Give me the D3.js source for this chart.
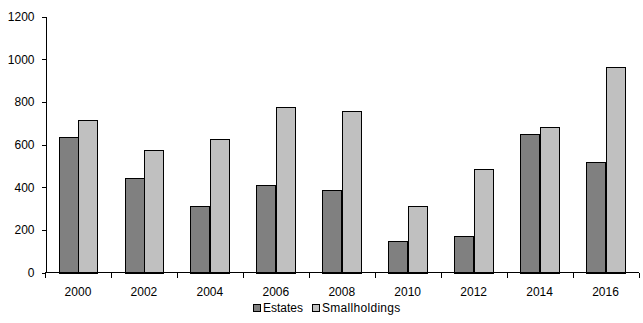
<!DOCTYPE html>
<html><head><meta charset="utf-8">
<script src="https://cdn.jsdelivr.net/npm/d3@7"></script>
<style>
html,body{margin:0;padding:0;background:#fff;}
svg{display:block;font-family:"Liberation Sans",Arial,sans-serif;}
</style></head>
<body>
<svg id="chart" width="643" height="323"></svg>
<script>
const years = ["2000","2002","2004","2006","2008","2010","2012","2014","2016"];
const seriesNames = ["Estates","Smallholdings"];
const estates = [637, 441, 314, 412, 389, 150, 173, 647, 520];
const smallholdings = [717, 575, 628, 778, 755, 314, 483, 680, 961];
const yTicks = [0, 200, 400, 600, 800, 1000, 1200];
const colors = ["#808080", "#C0C0C0"];

const svg = d3.select("#chart");
const x = d3.scaleBand().domain(years).range([45, 638.5]).padding(0);
const xs = d3.scaleBand().domain(seriesNames).range([0, x.bandwidth()]).paddingInner(0).paddingOuter(0.7);
const y = d3.scaleLinear().domain([0, 1200]).range([272.5, 16.5]);

const seriesVals = [estates, smallholdings];
const data = [];
years.forEach((yr, i) => seriesNames.forEach((s, j) => data.push({yr, s, v: seriesVals[j][i], c: colors[j]})));

svg.append("g").selectAll("rect").data(data).join("rect")
  .attr("x", d => Math.round(x(d.yr) + xs(d.s)) + 0.5)
  .attr("width", d => Math.round(xs.bandwidth()))
  .attr("y", d => Math.round(y(d.v)) + 0.5)
  .attr("height", d => Math.round(y(0)) - Math.round(y(d.v)))
  .attr("fill", d => d.c)
  .attr("stroke", "#000")
  .attr("stroke-width", 1)
  .attr("shape-rendering", "crispEdges");

// Y axis
const yAxis = d3.axisLeft(y).tickValues(yTicks).tickFormat(d3.format("d")).tickSize(4).tickPadding(7).tickSizeOuter(0);
const gy = svg.append("g").attr("transform", "translate(45.5,0)").call(yAxis);
gy.select(".domain").attr("stroke", "#000").attr("shape-rendering", "crispEdges");
gy.selectAll(".tick line").attr("stroke", "#000").attr("shape-rendering", "crispEdges");
gy.selectAll("text").attr("font-size", "12px").attr("fill", "#000").attr("font-family", "Liberation Sans, Arial, sans-serif");

// X axis
const gx = svg.append("g").attr("transform", "translate(0,272.5)");
gx.append("line").attr("x1", 45).attr("x2", 638.5).attr("y1", 0).attr("y2", 0)
  .attr("stroke", "#000").attr("shape-rendering", "crispEdges");
const boundaries = years.map(d => x(d)).concat([x(years[years.length-1]) + x.bandwidth()]);
gx.selectAll("line.tk").data(boundaries).join("line").attr("class", "tk")
  .attr("x1", d => Math.round(d) + 0.5).attr("x2", d => Math.round(d) + 0.5)
  .attr("y1", 0).attr("y2", 5).attr("stroke", "#000").attr("shape-rendering", "crispEdges");
gx.selectAll("text").data(years).join("text")
  .attr("x", d => x(d) + x.bandwidth() / 2).attr("y", 23)
  .attr("text-anchor", "middle").attr("font-size", "12px").attr("fill", "#000")
  .text(d => d);

// Legend
const legend = svg.append("g");
const legendPos = [{sx: 253, tx: 263}, {sx: 312, tx: 322}];
seriesNames.forEach((s, j) => {
  legend.append("rect").attr("x", legendPos[j].sx + 0.5).attr("y", 304.5).attr("width", 7).attr("height", 7)
    .attr("fill", colors[j]).attr("stroke", "#000").attr("shape-rendering", "crispEdges");
  legend.append("text").attr("x", legendPos[j].tx).attr("y", 312).attr("font-size", "12px")
    .attr("fill", "#000").attr("letter-spacing", j === 1 ? "0.3px" : "0px").text(s);
});
</script>
</body></html>
